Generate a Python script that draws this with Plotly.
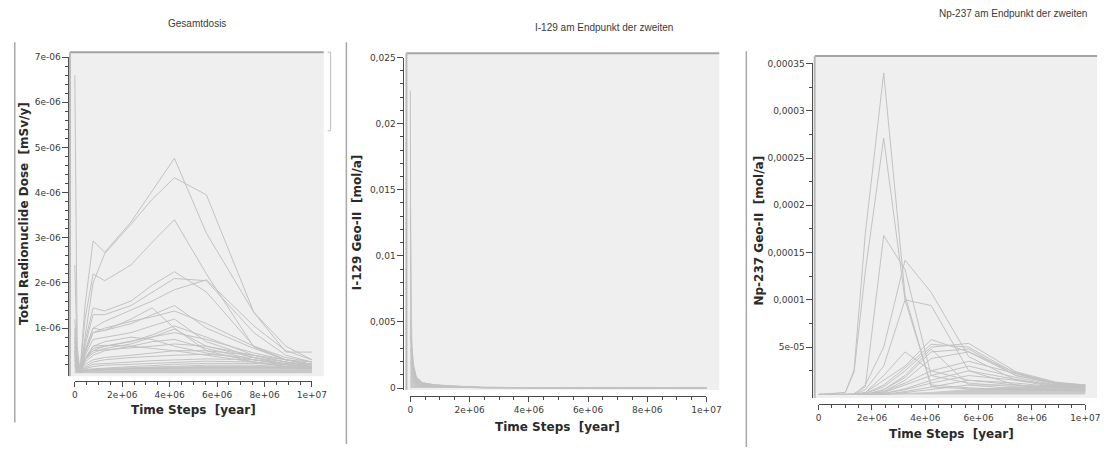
import plotly.graph_objects as go

W, H = 1117, 450

# ------------------------------------------------------------------ data
# Panel 1: total radionuclide dose, one list per simulation run (units of 1e-6 mSv/y)
dose_time = [0, 1e5, 2.2e5, 4.3e5, 7.7e5, 1.26e6, 2.37e6, 3.26e6, 4.2e6, 5.55e6, 7.55e6, 8.9e6, 1e7]
DOSE_UNIT = 1e-6
dose_runs = [
    [6.6, 0.6, 0.05, 1.5, 2.93, 2.68, 3.35, 4.05, 4.76, 3.1, 1.35, 0.47, 0.47],
    [1.2, 0.3, 0.05, 0.8, 2.0, 2.65, 3.3, 3.85, 4.33, 3.95, 1.35, 0.6, 0.3],
    [2.4, 0.4, 0.05, 1.2, 2.2, 2.05, 2.4, 2.9, 3.4, 2.2, 0.58, 0.3, 0.2],
    [1.0, 0.3, 0.05, 0.7, 1.45, 1.38, 1.6, 1.95, 2.25, 1.8, 0.6, 0.3, 0.2],
    [0.9, 0.25, 0.05, 0.6, 1.3, 1.3, 1.5, 1.8, 2.1, 2.05, 0.9, 0.4, 0.25],
    [0.8, 0.2, 0.05, 0.5, 1.0, 1.15, 1.4, 1.6, 1.85, 2.07, 1.05, 0.5, 0.3],
    [0.8, 0.2, 0.05, 0.5, 1.0, 0.95, 1.1, 1.3, 1.5, 1.0, 0.55, 0.3, 0.2],
    [0.7, 0.2, 0.04, 0.45, 0.9, 1.0, 1.15, 1.25, 1.38, 1.1, 0.6, 0.35, 0.25],
    [0.7, 0.2, 0.04, 0.45, 0.9, 0.95, 1.2, 1.45, 1.0, 0.5, 0.25, 0.15, 0.1],
    [0.6, 0.15, 0.04, 0.3, 0.5, 0.6, 0.7, 0.85, 1.05, 0.8, 0.4, 0.25, 0.15],
    [0.5, 0.15, 0.04, 0.3, 0.45, 0.55, 0.65, 0.8, 0.98, 0.6, 0.35, 0.2, 0.12],
    [0.5, 0.15, 0.03, 0.35, 0.6, 0.7, 0.8, 0.75, 0.6, 0.45, 0.3, 0.2, 0.12],
    [0.4, 0.12, 0.03, 0.25, 0.4, 0.5, 0.6, 0.7, 0.75, 0.55, 0.3, 0.2, 0.12],
    [0.4, 0.12, 0.03, 0.3, 0.6, 0.62, 0.6, 0.55, 0.5, 0.4, 0.25, 0.15, 0.1],
    [0.35, 0.1, 0.03, 0.2, 0.3, 0.35, 0.4, 0.45, 0.5, 0.5, 0.4, 0.3, 0.25],
    [0.3, 0.1, 0.03, 0.15, 0.25, 0.3, 0.35, 0.38, 0.4, 0.42, 0.35, 0.25, 0.2],
    [0.3, 0.1, 0.03, 0.12, 0.2, 0.22, 0.25, 0.28, 0.3, 0.32, 0.3, 0.22, 0.18],
    [0.25, 0.08, 0.02, 0.1, 0.15, 0.18, 0.2, 0.22, 0.25, 0.27, 0.25, 0.2, 0.15],
    [0.2, 0.06, 0.02, 0.08, 0.1, 0.12, 0.15, 0.17, 0.2, 0.22, 0.22, 0.18, 0.15],
    [0.2, 0.06, 0.02, 0.06, 0.08, 0.1, 0.12, 0.14, 0.16, 0.18, 0.18, 0.15, 0.12],
    [0.15, 0.05, 0.02, 0.05, 0.06, 0.08, 0.1, 0.11, 0.12, 0.13, 0.14, 0.12, 0.1],
    [0.6, 0.2, 0.04, 0.4, 0.75, 0.8, 0.9, 1.05, 1.2, 0.7, 0.35, 0.2, 0.15],
    [0.5, 0.15, 0.03, 0.3, 0.55, 0.6, 0.7, 0.8, 0.9, 0.75, 0.45, 0.3, 0.2],
    [0.45, 0.12, 0.03, 0.3, 0.5, 0.52, 0.55, 0.6, 0.65, 0.6, 0.4, 0.25, 0.18],
]
dose_band_run = [0.15, 0.06, 0.03, 0.06, 0.08, 0.1, 0.12, 0.13, 0.14, 0.15, 0.15, 0.14, 0.14]

# Panel 2: I-129 at the end point of Geo-II (units of 1e-3 mol/a)
i129_time = [0, 2e4, 5e4, 1e5, 2e5, 4e5, 8e5, 1.2e6, 1.8e6, 2.5e6, 4e6, 7e6, 1e7]
I129_UNIT = 1e-3
i129_runs = [
    [22.5, 4.0, 2.8, 1.7, 0.8, 0.4, 0.25, 0.18, 0.1, 0.05, 0.03, 0.02, 0.01],
    [5.2, 4.5, 3.0, 1.6, 0.7, 0.35, 0.22, 0.16, 0.1, 0.05, 0.02, 0.01, 0.01],
    [4.0, 3.5, 2.5, 1.4, 0.6, 0.3, 0.2, 0.14, 0.08, 0.04, 0.02, 0.01, 0.01],
    [3.0, 2.8, 2.0, 1.2, 0.5, 0.25, 0.16, 0.12, 0.07, 0.03, 0.02, 0.01, 0.005],
    [2.0, 2.0, 1.5, 0.9, 0.4, 0.2, 0.13, 0.1, 0.06, 0.03, 0.01, 0.005, 0.005],
    [1.2, 1.2, 1.0, 0.7, 0.3, 0.15, 0.1, 0.08, 0.05, 0.02, 0.01, 0.005, 0.003],
    [0.6, 0.6, 0.6, 0.4, 0.2, 0.1, 0.08, 0.06, 0.04, 0.02, 0.01, 0.005, 0.003],
]
i129_band_run = [13.6, 5.2, 3.2, 1.9, 0.85, 0.42, 0.26, 0.19, 0.12, 0.06, 0.03, 0.02, 0.01]

# Panel 3: Np-237 at the end point of Geo-II (units of 1e-5 mol/a)
np237_time = [0, 1.0e6, 1.33e6, 1.75e6, 2.44e6, 3.24e6, 4.22e6, 5.63e6, 7.4e6, 8.9e6, 1e7]
NP237_UNIT = 1e-5
np237_runs = [
    [0, 0.2, 2.6, 17, 34, 10.5, 0.8, 0.6, 0.5, 0.4, 0.4],
    [0, 0.2, 2.4, 13, 27.1, 10, 1.0, 0.7, 0.5, 0.4, 0.4],
    [0, 0, 0.1, 0.8, 16.8, 13.2, 2.0, 1.2, 0.8, 0.5, 0.4],
    [0, 0, 0, 1.0, 5.0, 14.2, 10.8, 4.0, 1.5, 0.8, 0.6],
    [0, 0, 0, 0.5, 3.0, 10.0, 9.4, 2.5, 1.0, 0.7, 0.6],
    [0, 0, 0, 0.2, 1.5, 3.0, 5.8, 4.5, 2.0, 1.2, 1.0],
    [0, 0, 0, 0.1, 1.0, 2.8, 5.3, 5.0, 2.2, 1.2, 1.0],
    [0, 0, 0, 0.1, 0.8, 2.5, 5.0, 5.4, 2.4, 1.3, 1.0],
    [0, 0, 0, 0, 0.5, 1.8, 4.5, 4.8, 2.0, 1.1, 0.9],
    [0, 0, 0, 0, 0.3, 1.5, 3.8, 4.5, 2.3, 1.2, 0.9],
    [0, 0, 0, 0, 0.3, 1.2, 2.5, 3.5, 2.2, 1.1, 0.9],
    [0, 0, 0, 0, 0.2, 1.0, 2.0, 3.0, 1.8, 1.0, 0.8],
    [0, 0, 0, 0, 0.1, 0.6, 1.5, 2.5, 1.6, 0.9, 0.8],
    [0, 0, 0, 0, 0.1, 0.5, 1.2, 2.0, 1.5, 1.0, 0.8],
    [0, 0, 0, 0, 0, 0.3, 0.8, 1.5, 1.2, 0.8, 0.7],
    [0, 0, 0, 0, 0, 0.2, 0.5, 1.0, 1.0, 0.7, 0.6],
    [0, 0, 0, 0, 0.5, 2.0, 4.8, 1.0, 0.6, 0.5, 0.4],
    [0, 0, 0, 0.2, 2.0, 4.5, 2.5, 1.5, 1.0, 0.7, 0.6],
]
np237_band_run = [0, 0, 0, 0, 0, 0.1, 0.2, 0.5, 0.8, 1.0, 1.0]

# Tick labels
x_tickvals = [0, 2e6, 4e6, 6e6, 8e6, 1e7]
x_ticktext = ["0", "2e+06", "4e+06", "6e+06", "8e+06", "1e+07"]
dose_tickvals = [1e-6, 2e-6, 3e-6, 4e-6, 5e-6, 6e-6, 7e-6]
dose_ticktext = ["1e-06", "2e-06", "3e-06", "4e-06", "5e-06", "6e-06", "7e-06"]
i129_tickvals = [0, 0.005, 0.01, 0.015, 0.02, 0.025]
i129_ticktext = ["0", "0,005", "0,01", "0,015", "0,02", "0,025"]
np237_tickvals = [5e-5, 1e-4, 1.5e-4, 2e-4, 2.5e-4, 3e-4, 3.5e-4]
np237_ticktext = ["5e-05", "0,0001", "0,00015", "0,0002", "0,00025", "0,0003", "0,00035"]

titles = ["Gesamtdosis", "I-129 am Endpunkt der zweiten", "Np-237 am Endpunkt der zweiten"]
y_titles = ["Total Radionuclide Dose\u00a0 [mSv/y]", "I-129 Geo-II\u00a0 [mol/a]", "Np-237 Geo-II\u00a0 [mol/a]"]
x_title = "Time Steps\u00a0 [year]"

# ------------------------------------------------------------------ layout geometry (pixels)
panels = [
    dict(time=dose_time, runs=dose_runs, band=dose_band_run, unit=DOSE_UNIT,
         box=(68, 326, 48, 378), x0px=73, x1px=314, y0px=375, ytop=7e-6, ytoppx=53,
         yline=66.5, xline=383, ytv=dose_tickvals, ytt=dose_ticktext, yminor=0.2e-6,
         title_xy=(197, 19), ytitle_xy=(22, 212), xtitle_xy=(194, 412)),
    dict(time=i129_time, runs=i129_runs, band=i129_band_run, unit=I129_UNIT,
         box=(410, 728, 49, 392), x0px=414, x1px=715, y0px=390, ytop=0.025, ytoppx=53.5,
         yline=407, xline=398, ytv=i129_tickvals, ytt=i129_ticktext, yminor=0.001,
         title_xy=(611, 23), ytitle_xy=(360, 222), xtitle_xy=(564, 430)),
    dict(time=np237_time, runs=np237_runs, band=np237_band_run, unit=NP237_UNIT,
         box=(825, 1112, 52, 400), x0px=829, x1px=1100, y0px=396.5, ytop=3.5e-4, ytoppx=59.5,
         yline=822.7, xline=406.7, ytv=np237_tickvals, ytt=np237_ticktext, yminor=2.5e-5,
         title_xy=(1027, 9), ytitle_xy=(768, 230), xtitle_xy=(964, 437)),
]


def fx(px):
    return px / W


def fy(py):
    return 1 - py / H


LINE = "#c2c2c2"
BAND = "#c9c9c9"
BG = "#efefef"
AXC = "#4a4a4a"
TICKFONT = dict(family="DejaVu Sans", size=9, color="#3a3a3a")

fig = go.Figure()
layout = dict(width=W, height=H, margin=dict(l=0, r=0, t=0, b=0, pad=0),
              paper_bgcolor="white", plot_bgcolor="rgba(0,0,0,0)", showlegend=False)
shapes = []
annotations = []

for i, p in enumerate(panels):
    k = i + 1
    kt = i + 4
    L, R, T, B = p["box"]
    xs = (p["x1px"] - p["x0px"]) / 1e7
    xr = [(L - p["x0px"]) / xs, (R - p["x0px"]) / xs]
    ys = (p["y0px"] - p["ytoppx"]) / p["ytop"]
    yr = [(p["y0px"] - B) / ys, (p["y0px"] - T) / ys]

    xn = "x" if k == 1 else f"x{k}"
    yn = "y" if k == 1 else f"y{k}"
    xa = "xaxis" if k == 1 else f"xaxis{k}"
    ya = "yaxis" if k == 1 else f"yaxis{k}"

    layout[xa] = dict(domain=[fx(L), fx(R)], range=xr, visible=False, fixedrange=True, anchor=yn)
    layout[ya] = dict(domain=[fy(B), fy(T)], range=yr, visible=False, fixedrange=True, anchor=xn)

    # tick axes (span only the labelled range, detached from plot area)
    x_minor = [j * 5e5 for j in range(21) if j % 4 != 0]
    nmin = int(round(p["ytop"] / p["yminor"]))
    y_minor = [j * p["yminor"] for j in range(1, nmin)]
    layout[f"xaxis{kt}"] = dict(
        domain=[fx(p["x0px"]), fx(p["x1px"])], range=[0, 1e7], anchor="free",
        position=fy(p["xline"]), showline=True, linecolor=AXC, linewidth=1,
        ticks="outside", ticklen=5, tickcolor=AXC, tickwidth=1,
        tickmode="array", tickvals=x_tickvals, ticktext=x_ticktext, tickfont=TICKFONT,
        minor=dict(tickmode="array", tickvals=x_minor, ticks="outside", ticklen=3, tickcolor=AXC),
        showgrid=False, zeroline=False, fixedrange=True)
    layout[f"yaxis{kt}"] = dict(
        domain=[fy(B), fy(p["ytoppx"])], range=[yr[0], p["ytop"]], anchor="free",
        position=fx(p["yline"]), showline=True, linecolor=AXC, linewidth=1,
        ticks="outside", ticklen=6, tickcolor=AXC, tickwidth=1,
        tickmode="array", tickvals=p["ytv"], ticktext=p["ytt"], tickfont=TICKFONT,
        minor=dict(tickmode="array", tickvals=y_minor, ticks="outside", ticklen=3, tickcolor=AXC),
        showgrid=False, zeroline=False, fixedrange=True)
    fig.add_trace(go.Scatter(x=[None], y=[None], xaxis=f"x{kt}", yaxis=f"y{kt}",
                             hoverinfo="skip", showlegend=False))

    # plot area background and frame
    shapes.append(dict(type="rect", xref=f"{xn} domain", yref=f"{yn} domain", x0=0, x1=1, y0=0, y1=1,
                       fillcolor=BG, line=dict(width=0), layer="below"))
    shapes.append(dict(type="line", xref=f"{xn} domain", yref=f"{yn} domain", x0=0, x1=1, y0=1, y1=1,
                       line=dict(color="#a4a4a4", width=2)))
    shapes.append(dict(type="line", xref=f"{xn} domain", yref=f"{yn} domain", x0=0, x1=0, y0=0, y1=1,
                       line=dict(color="#b8b8b8", width=2)))

    # data
    fig.add_trace(go.Scatter(x=p["time"], y=[v * p["unit"] for v in p["band"]], xaxis=xn, yaxis=yn,
                             mode="lines", line=dict(color=BAND, width=1), fill="tozeroy",
                             fillcolor=BAND, hoverinfo="skip"))
    for run in p["runs"]:
        fig.add_trace(go.Scatter(x=p["time"], y=[v * p["unit"] for v in run], xaxis=xn, yaxis=yn,
                                 mode="lines", line=dict(color=LINE, width=1), hoverinfo="skip"))

    # texts
    tx, ty = p["title_xy"]
    annotations.append(dict(text=titles[i], x=fx(tx), y=fy(ty), xref="paper", yref="paper",
                            showarrow=False, xanchor="center", yanchor="middle",
                            font=dict(family="Liberation Sans", size=10, color="#3a3a3a")))
    yx, yy = p["ytitle_xy"]
    annotations.append(dict(text=y_titles[i], x=fx(yx), y=fy(yy), xref="paper", yref="paper",
                            showarrow=False, xanchor="center", yanchor="middle", textangle=-90,
                            font=dict(family="DejaVu Sans", size=12, color="#2a2a2a", weight="bold")))
    xx, xy = p["xtitle_xy"]
    annotations.append(dict(text=x_title, x=fx(xx), y=fy(xy), xref="paper", yref="paper",
                            showarrow=False, xanchor="center", yanchor="middle",
                            font=dict(family="DejaVu Sans", size=12, color="#2a2a2a", weight="bold")))

# panel separators
for sx, sy0, sy1 in [(12, 38, 425), (349, 38, 447), (755.5, 47, 450)]:
    shapes.append(dict(type="line", xref="paper", yref="paper", x0=fx(sx), x1=fx(sx),
                       y0=fy(sy0), y1=fy(sy1), line=dict(color="#a8a8a8", width=1.5)))
# small legend bracket in first panel
shapes.append(dict(type="path", xref="paper", yref="paper",
                   path=f"M {fx(330)} {fy(48)} L {fx(333)} {fy(48)} L {fx(333)} {fy(128)} L {fx(330)} {fy(128)}",
                   line=dict(color="#bdbdbd", width=1)))

layout["shapes"] = shapes
layout["annotations"] = annotations
fig.update_layout(**layout)

PAGE_CSS = ("var s=document.createElement('style');"
            "s.innerHTML='html,body{margin:0;padding:0;overflow:hidden;}';"
            "document.head.appendChild(s);")
fig.write_html("out.html", config={"displayModeBar": False, "staticPlot": True},
               post_script=PAGE_CSS)
